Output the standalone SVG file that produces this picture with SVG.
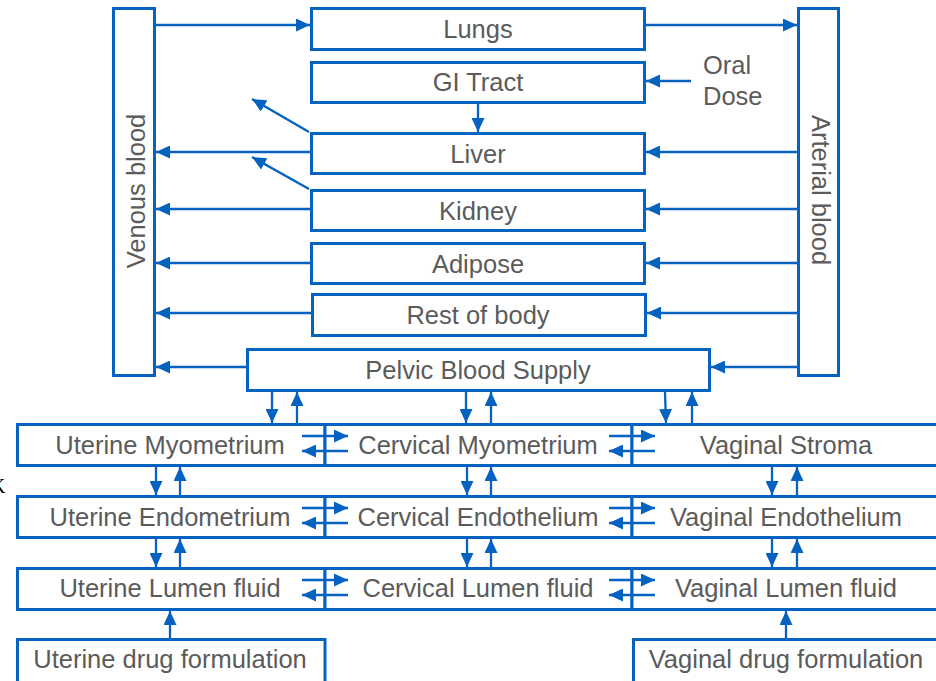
<svg xmlns="http://www.w3.org/2000/svg" width="936" height="681" viewBox="0 0 936 681">
<style>
.box{fill:#fff;stroke:#0562C1;stroke-width:3}
.ln{fill:none;stroke:#0562C1;stroke-width:2.3}
.t{font-family:"Liberation Sans",Arial,sans-serif;font-size:25.5px;fill:#5B5B5B;text-anchor:middle}
.tl{font-family:"Liberation Sans",Arial,sans-serif;font-size:25.5px;fill:#5B5B5B}
</style>
<defs>
<marker id="ah" viewBox="0 0 14 13" refX="14" refY="6.5" markerWidth="14" markerHeight="13" orient="auto" markerUnits="userSpaceOnUse">
<path d="M0,0 L14,6.5 L0,13 z" fill="#0562C1"/>
</marker>
</defs>
<rect width="936" height="681" fill="#fff"/>
<text x="-9" y="493" font-family="Liberation Serif,serif" font-size="20" fill="#000">K</text>

<g id="venous"><rect class="box" x="113.5" y="8.5" width="41" height="367"/><text class="t" transform="translate(145,191) rotate(-90)">Venous blood</text></g>
<g id="arterial"><rect class="box" x="798.5" y="8.5" width="40" height="367"/><text class="t" transform="translate(812,190) rotate(90)">Arterial blood</text></g>
<g id="lungs"><rect class="box" x="311.5" y="8.5" width="333" height="41"/><text class="t" x="478" y="38">Lungs</text></g>
<g id="gi"><rect class="box" x="311.5" y="62.5" width="333" height="40"/><text class="t" x="478" y="91">GI Tract</text></g>
<g id="oral"><text class="tl" x="703" y="74">Oral</text><text class="tl" x="703" y="105">Dose</text></g>
<g id="liver"><rect class="box" x="311.5" y="133.5" width="333" height="40"/><text class="t" x="478" y="163">Liver</text></g>
<g id="kidney"><rect class="box" x="311.5" y="190.5" width="333" height="40"/><text class="t" x="478" y="220">Kidney</text></g>
<g id="adipose"><rect class="box" x="311.5" y="243.5" width="333" height="40"/><text class="t" x="478" y="273">Adipose</text></g>
<g id="rest"><rect class="box" x="312.5" y="294.5" width="333" height="41"/><text class="t" x="478" y="324">Rest of body</text></g>
<g id="pelvic"><rect class="box" x="247.5" y="349.5" width="462" height="41"/><text class="t" x="478" y="379">Pelvic Blood Supply</text></g>

<g id="uterine-myometrium"><rect class="box" x="17.5" y="424.5" width="307.5" height="41"/><text class="t" x="170" y="454">Uterine Myometrium</text></g>
<g id="cervical-myometrium"><rect class="box" x="325" y="424.5" width="307" height="41"/><text class="t" x="478" y="454">Cervical Myometrium</text></g>
<g id="vaginal-stroma"><rect class="box" x="632" y="424.5" width="310" height="41"/><text class="t" x="786" y="454">Vaginal Stroma</text></g>
<g id="uterine-endometrium"><rect class="box" x="17.5" y="496.5" width="307.5" height="41"/><text class="t" x="170" y="526">Uterine Endometrium</text></g>
<g id="cervical-endothelium"><rect class="box" x="325" y="496.5" width="307" height="41"/><text class="t" x="478" y="526">Cervical Endothelium</text></g>
<g id="vaginal-endothelium"><rect class="box" x="632" y="496.5" width="310" height="41"/><text class="t" x="786" y="526">Vaginal Endothelium</text></g>
<g id="uterine-lumen"><rect class="box" x="17.5" y="568.5" width="307.5" height="41"/><text class="t" x="170" y="597">Uterine Lumen fluid</text></g>
<g id="cervical-lumen"><rect class="box" x="325" y="568.5" width="307" height="41"/><text class="t" x="478" y="597">Cervical Lumen fluid</text></g>
<g id="vaginal-lumen"><rect class="box" x="632" y="568.5" width="310" height="41"/><text class="t" x="786" y="597">Vaginal Lumen fluid</text></g>
<g id="uterine-drug"><rect class="box" x="17.5" y="639.5" width="307.5" height="60"/><text class="t" x="170" y="668">Uterine drug formulation</text></g>
<g id="vaginal-drug"><rect class="box" x="633.5" y="639.5" width="310" height="60"/><text class="t" x="786" y="668">Vaginal drug formulation</text></g>

<g id="connectors" class="ln" marker-end="url(#ah)">
<path d="M156,25 H310"/>
<path d="M646,25 H797"/>
<path d="M691,81 H646"/>
<path d="M478,104 V132"/>
<path d="M309,132 L252,99"/>
<path d="M309,189 L252,157"/>
<path d="M310,152 H156"/>
<path d="M310,209 H156"/>
<path d="M310,263 H156"/>
<path d="M311,313 H156"/>
<path d="M246,367 H156"/>
<path d="M797,152 H646"/>
<path d="M797,209 H646"/>
<path d="M797,263 H646"/>
<path d="M797,313 H647"/>
<path d="M797,367 H711"/>
<path d="M272,392 V423"/>
<path d="M297,423 V392"/>
<path d="M466,392 V423"/>
<path d="M491,423 V392"/>
<path d="M665,392 L666,423"/>
<path d="M692,423 V392"/>
<path d="M302,436 H348"/>
<path d="M348,451 H302"/>
<path d="M609,436 H655"/>
<path d="M655,451 H609"/>
<path d="M302,508 H348"/>
<path d="M348,523 H302"/>
<path d="M609,508 H655"/>
<path d="M655,523 H609"/>
<path d="M302,580 H348"/>
<path d="M348,595 H302"/>
<path d="M609,580 H655"/>
<path d="M655,595 H609"/>
<path d="M156,467 V495"/>
<path d="M180,495 V467"/>
<path d="M467,467 V495"/>
<path d="M491,495 V467"/>
<path d="M772,467 V495"/>
<path d="M797,495 V467"/>
<path d="M156,539 V567"/>
<path d="M180,567 V539"/>
<path d="M467,539 V567"/>
<path d="M491,567 V539"/>
<path d="M772,539 V567"/>
<path d="M797,567 V539"/>
<path d="M170,638 V611"/>
<path d="M786,638 V611"/>
</g>
</svg>
